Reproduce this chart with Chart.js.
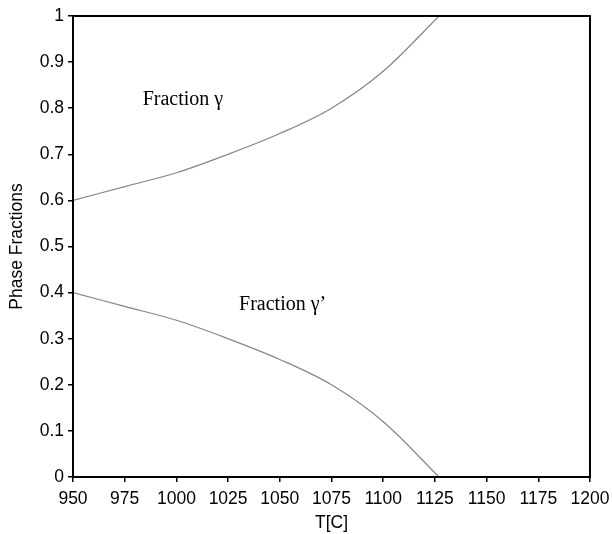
<!DOCTYPE html>
<html>
<head>
<meta charset="utf-8">
<script src="https://cdn.jsdelivr.net/npm/chart.js@4.4.0/dist/chart.umd.min.js"></script>
<style>
  html, body { margin: 0; padding: 0; background: #fff; }
  #wrap { width: 612px; height: 534px; }
</style>
</head>
<body>
<div id="wrap"><canvas id="c" width="612" height="534"></canvas></div>
<script>
const temperatures = [950, 975, 1000, 1025, 1050, 1075, 1100, 1127];
const fractionGamma = [0.60, 0.63, 0.66, 0.70, 0.745, 0.80, 0.88, 1.00];
const fractionGammaPrime = [0.40, 0.37, 0.34, 0.30, 0.255, 0.20, 0.12, 0.00];
const xTicks = [950, 975, 1000, 1025, 1050, 1075, 1100, 1125, 1150, 1175, 1200];
const yTicks = [0, 0.1, 0.2, 0.3, 0.4, 0.5, 0.6, 0.7, 0.8, 0.9, 1];

const toPts = (xs, ys) => xs.map((x, i) => ({ x: x, y: ys[i] }));

const boxPlugin = {
  id: 'box',
  afterDraw(chart) {
    const { ctx, chartArea: a } = chart;
    ctx.save();
    ctx.strokeStyle = '#000';
    ctx.lineWidth = 2;
    ctx.strokeRect(a.left, a.top, a.right - a.left, a.bottom - a.top);
    ctx.restore();
  }
};

const labelPlugin = {
  id: 'labels',
  afterDatasetsDraw(chart) {
    const { ctx, scales } = chart;
    ctx.save();
    ctx.fillStyle = '#000';
    ctx.font = '20px "Liberation Serif", "DejaVu Serif", serif';
    ctx.textBaseline = 'alphabetic';
    ctx.textAlign = 'left';
    ctx.fillText('Fraction γ', scales.x.getPixelForValue(983.7), scales.y.getPixelForValue(0.806));
    ctx.fillText('Fraction γ’', scales.x.getPixelForValue(1030.3), scales.y.getPixelForValue(0.362));
    ctx.restore();
  }
};

const sans = '"Liberation Sans", Arial, sans-serif';

new Chart(document.getElementById('c'), {
  type: 'scatter',
  data: {
    datasets: [
      {
        label: 'Fraction γ',
        data: toPts(temperatures, fractionGamma),
        showLine: true,
        borderColor: '#858585',
        borderWidth: 1.2,
        pointRadius: 0,
        tension: 0.35,
        fill: false
      },
      {
        label: 'Fraction γ’',
        data: toPts(temperatures, fractionGammaPrime),
        showLine: true,
        borderColor: '#858585',
        borderWidth: 1.2,
        pointRadius: 0,
        tension: 0.35,
        fill: false
      }
    ]
  },
  options: {
    responsive: false,
    animation: false,
    layout: { padding: { left: 0, right: 22, top: 16, bottom: 0 } },
    plugins: {
      legend: { display: false },
      tooltip: { enabled: false }
    },
    scales: {
      x: {
        type: 'linear',
        min: 950,
        max: 1200,
        afterBuildTicks: (s) => { s.ticks = xTicks.map(v => ({ value: v })); },
        afterFit: (s) => { s.height = 57; s.paddingLeft = 0; s.paddingRight = 0; },
        ticks: {
          color: '#000',
          font: { family: sans, size: 17.5 },
          padding: 7,
          maxRotation: 0,
          autoSkip: false,
          callback: (v) => String(v)
        },
        grid: { drawOnChartArea: false, color: '#000', tickLength: 5, lineWidth: 1.5 },
        border: { color: '#000', width: 2 },
        title: {
          display: true,
          text: 'T[C]',
          color: '#000',
          font: { family: sans, size: 17.5 },
          padding: { top: 0, bottom: 0 }
        }
      },
      y: {
        type: 'linear',
        min: 0,
        max: 1,
        afterBuildTicks: (s) => { s.ticks = yTicks.map(v => ({ value: v })); },
        afterFit: (s) => { s.width = 73; s.paddingTop = 0; s.paddingBottom = 0; },
        ticks: {
          color: '#000',
          font: { family: sans, size: 17.5 },
          padding: 4,
          autoSkip: false,
          callback: (v) => String(v)
        },
        grid: { drawOnChartArea: false, color: '#000', tickLength: 5, lineWidth: 1.5 },
        border: { color: '#000', width: 2 },
        title: {
          display: true,
          text: 'Phase Fractions',
          color: '#000',
          font: { family: sans, size: 17.5 },
          padding: { top: 7, bottom: 0 }
        }
      }
    }
  },
  plugins: [boxPlugin, labelPlugin]
});
</script>
</body>
</html>
